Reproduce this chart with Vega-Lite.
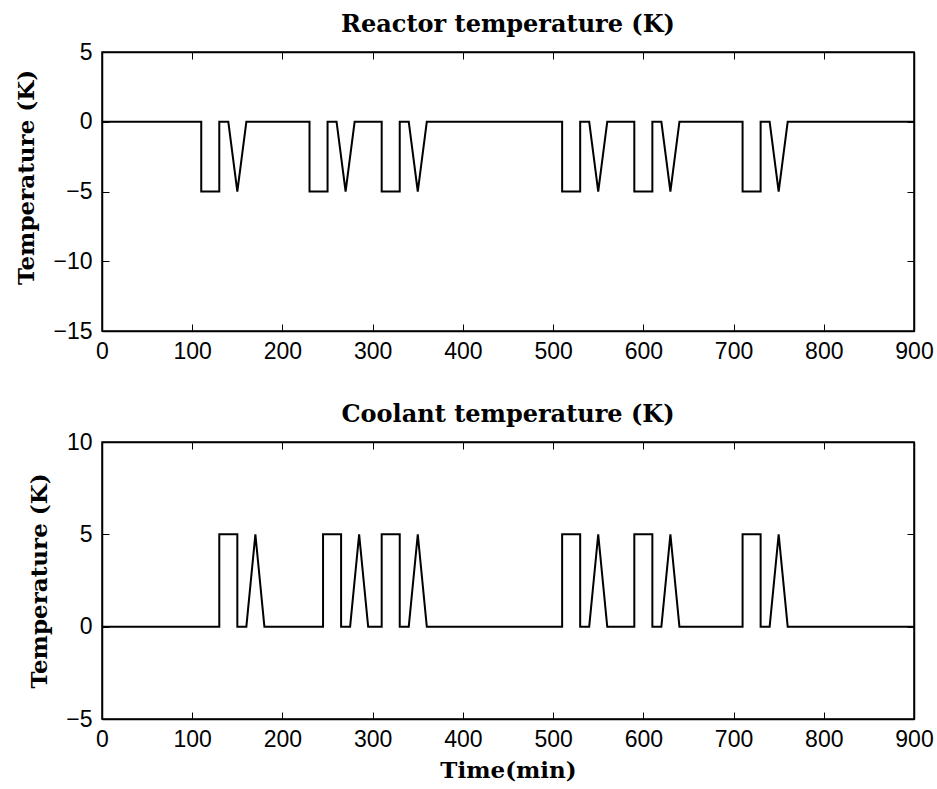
{
  "$schema": "https://vega.github.io/schema/vega-lite/v6.json",
  "background": "white",
  "padding": {"left": 15, "top": 12, "right": 10, "bottom": 5},
  "spacing": 38,
  "datasets": {
    "reactor": [
      {"i":0,"t":0,"v":0},{"i":1,"t":110,"v":0},{"i":2,"t":110,"v":-5},{"i":3,"t":130,"v":-5},{"i":4,"t":130,"v":0},{"i":5,"t":140,"v":0},{"i":6,"t":150,"v":-5},{"i":7,"t":160,"v":0},
      {"i":8,"t":230,"v":0},{"i":9,"t":230,"v":-5},{"i":10,"t":250,"v":-5},{"i":11,"t":250,"v":0},{"i":12,"t":260,"v":0},{"i":13,"t":270,"v":-5},{"i":14,"t":280,"v":0},
      {"i":15,"t":310,"v":0},{"i":16,"t":310,"v":-5},{"i":17,"t":330,"v":-5},{"i":18,"t":330,"v":0},{"i":19,"t":340,"v":0},{"i":20,"t":350,"v":-5},{"i":21,"t":360,"v":0},
      {"i":22,"t":510,"v":0},{"i":23,"t":510,"v":-5},{"i":24,"t":530,"v":-5},{"i":25,"t":530,"v":0},{"i":26,"t":540,"v":0},{"i":27,"t":550,"v":-5},{"i":28,"t":560,"v":0},
      {"i":29,"t":590,"v":0},{"i":30,"t":590,"v":-5},{"i":31,"t":610,"v":-5},{"i":32,"t":610,"v":0},{"i":33,"t":620,"v":0},{"i":34,"t":630,"v":-5},{"i":35,"t":640,"v":0},
      {"i":36,"t":710,"v":0},{"i":37,"t":710,"v":-5},{"i":38,"t":730,"v":-5},{"i":39,"t":730,"v":0},{"i":40,"t":740,"v":0},{"i":41,"t":750,"v":-5},{"i":42,"t":760,"v":0},
      {"i":43,"t":900,"v":0}
    ],
    "coolant": [
      {"i":0,"t":0,"v":0},{"i":1,"t":130,"v":0},{"i":2,"t":130,"v":5},{"i":3,"t":150,"v":5},{"i":4,"t":150,"v":0},{"i":5,"t":160,"v":0},{"i":6,"t":170,"v":5},{"i":7,"t":180,"v":0},
      {"i":8,"t":245,"v":0},{"i":9,"t":245,"v":5},{"i":10,"t":265,"v":5},{"i":11,"t":265,"v":0},{"i":12,"t":275,"v":0},{"i":13,"t":285,"v":5},{"i":14,"t":295,"v":0},
      {"i":15,"t":310,"v":0},{"i":16,"t":310,"v":5},{"i":17,"t":330,"v":5},{"i":18,"t":330,"v":0},{"i":19,"t":340,"v":0},{"i":20,"t":350,"v":5},{"i":21,"t":360,"v":0},
      {"i":22,"t":510,"v":0},{"i":23,"t":510,"v":5},{"i":24,"t":530,"v":5},{"i":25,"t":530,"v":0},{"i":26,"t":540,"v":0},{"i":27,"t":550,"v":5},{"i":28,"t":560,"v":0},
      {"i":29,"t":590,"v":0},{"i":30,"t":590,"v":5},{"i":31,"t":610,"v":5},{"i":32,"t":610,"v":0},{"i":33,"t":620,"v":0},{"i":34,"t":630,"v":5},{"i":35,"t":640,"v":0},
      {"i":36,"t":710,"v":0},{"i":37,"t":710,"v":5},{"i":38,"t":730,"v":5},{"i":39,"t":730,"v":0},{"i":40,"t":740,"v":0},{"i":41,"t":750,"v":5},{"i":42,"t":760,"v":0},
      {"i":43,"t":900,"v":0}
    ]
  },
  "config": {
    "view": {"stroke": "black", "strokeWidth": 1.5},
    "axis": {
      "grid": false,
      "domainColor": "black",
      "domainWidth": 1.5,
      "tickColor": "black",
      "tickWidth": 1,
      "tickSize": -7,
      "labelFont": "Liberation Sans",
      "labelFontSize": 23,
      "labelColor": "black",
      "titleFont": "DejaVu Serif",
      "titleFontWeight": "bold",
      "titleFontSize": 23,
      "titleColor": "black"
    },
    "title": {"font": "DejaVu Serif", "fontWeight": "bold", "fontSize": 24, "color": "black", "offset": 4}
  },
  "vconcat": [
    {
      "width": 812,
      "height": 279,
      "title": "Reactor temperature (K)",
      "data": {"name": "reactor"},
      "layer": [
        {
          "mark": {"type": "line", "color": "black", "strokeWidth": 2},
          "encoding": {
            "x": {"field": "t", "type": "quantitative", "scale": {"domain": [0, 900], "nice": false},
                  "axis": {"orient": "bottom", "values": [0,100,200,300,400,500,600,700,800,900], "title": null, "labelPadding": 16, "labelFlush": false}},
            "y": {"field": "v", "type": "quantitative", "scale": {"domain": [-15, 5], "nice": false},
                  "axis": {"orient": "left", "values": [-15,-10,-5,0,5], "title": "Temperature (K)", "labelPadding": 17, "titlePadding": 14, "titleY": 125}},
            "order": {"field": "i", "type": "quantitative"}
          }
        },
        {
          "mark": {"type": "line", "opacity": 0},
          "encoding": {
            "x": {"field": "t", "type": "quantitative", "axis": {"orient": "top", "values": [0,100,200,300,400,500,600,700,800,900], "labels": false, "title": null}},
            "y": {"field": "v", "type": "quantitative", "axis": {"orient": "right", "values": [-15,-10,-5,0,5], "labels": false, "title": null}},
            "order": {"field": "i", "type": "quantitative"}
          }
        }
      ]
    },
    {
      "width": 812,
      "height": 277,
      "title": "Coolant temperature (K)",
      "data": {"name": "coolant"},
      "layer": [
        {
          "mark": {"type": "line", "color": "black", "strokeWidth": 2},
          "encoding": {
            "x": {"field": "t", "type": "quantitative", "scale": {"domain": [0, 900], "nice": false},
                  "axis": {"orient": "bottom", "values": [0,100,200,300,400,500,600,700,800,900], "title": "Time(min)", "labelPadding": 16, "labelFlush": false, "titlePadding": 8}},
            "y": {"field": "v", "type": "quantitative", "scale": {"domain": [-5, 10], "nice": false},
                  "axis": {"orient": "left", "values": [-5,0,5,10], "title": "Temperature (K)", "labelPadding": 17, "titlePadding": 14}},
            "order": {"field": "i", "type": "quantitative"}
          }
        },
        {
          "mark": {"type": "line", "opacity": 0},
          "encoding": {
            "x": {"field": "t", "type": "quantitative", "axis": {"orient": "top", "values": [0,100,200,300,400,500,600,700,800,900], "labels": false, "title": null}},
            "y": {"field": "v", "type": "quantitative", "axis": {"orient": "right", "values": [-5,0,5,10], "labels": false, "title": null}},
            "order": {"field": "i", "type": "quantitative"}
          }
        }
      ]
    }
  ]
}
